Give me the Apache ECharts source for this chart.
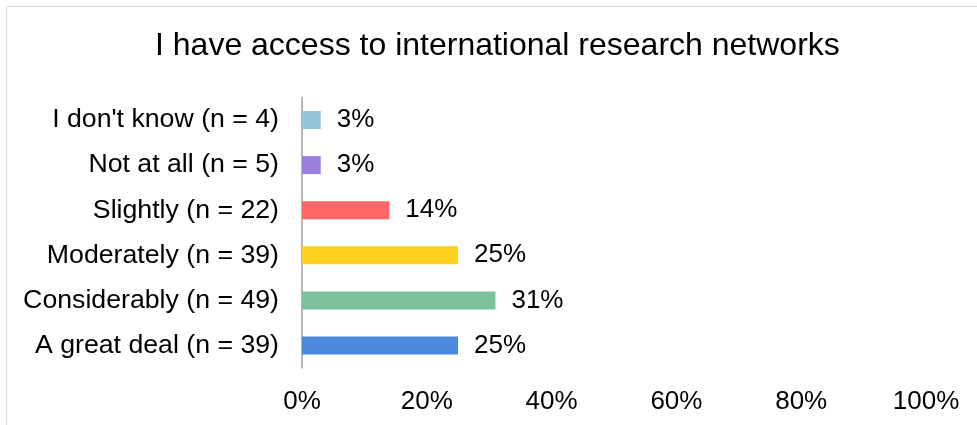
<!DOCTYPE html>
<html>
<head>
<meta charset="utf-8">
<script src="https://cdn.jsdelivr.net/npm/echarts@6/dist/echarts.min.js"></script>
<style>
html,body{margin:0;padding:0;background:#fff;}
#chart{width:977px;height:425px;}
</style>
</head>
<body>
<div id="chart"></div>
<script>
const titleText = 'I have access to international research networks';
const categories = ['I don\'t know (n = 4)', 'Not at all (n = 5)', 'Slightly (n = 22)', 'Moderately (n = 39)', 'Considerably (n = 49)', 'A great deal (n = 39)'];
const values = [3, 3, 14, 25, 31, 25];
const colors = ['#92C5D8', '#9B7EDB', '#FF6666', '#FFD11F', '#7DC19B', '#4A89DC'];
const xTicks = [0, 20, 40, 60, 80, 100];

const chart = echarts.init(document.getElementById('chart'), null, {renderer: 'canvas'});
const font = 'Liberation Sans, Arial, sans-serif';
chart.setOption({
  animation: false,
  backgroundColor: '#fff',
  textStyle: {fontFamily: font},
  title: {
    text: titleText,
    left: 155,
    top: 30,
    padding: 0,
    textStyle: {fontFamily: font, fontSize: 32, fontWeight: 'normal', color: '#000'}
  },
  graphic: [{
    type: 'rect',
    shape: {x: 6.5, y: 6.5, width: 1000, height: 600},
    style: {fill: 'none', stroke: '#D9D9D9', lineWidth: 1},
    silent: true
  }],
  grid: {left: 302, right: 51, top: 97.5, height: 270.5, containLabel: false},
  xAxis: {
    type: 'value',
    min: xTicks[0],
    max: xTicks[xTicks.length - 1],
    interval: xTicks[1] - xTicks[0],
    splitLine: {show: false},
    axisLine: {show: false},
    axisTick: {show: false},
    axisLabel: {formatter: '{value}%', color: '#000', fontSize: 26, fontFamily: font, margin: 21}
  },
  yAxis: {
    type: 'category',
    data: categories,
    inverse: true,
    axisLine: {show: true, lineStyle: {color: '#A0A0A0', width: 1.5}},
    axisTick: {show: false},
    axisLabel: {color: '#000', fontSize: 26.7, fontFamily: font, margin: 23}
  },
  series: [{
    type: 'bar',
    data: values.map((v, i) => ({value: v, itemStyle: {color: colors[i]}})),
    barWidth: 18,
    label: {show: true, position: 'right', distance: 16, formatter: '{c}%', color: '#000', fontSize: 26, fontFamily: font}
  }]
});
</script>
</body>
</html>
